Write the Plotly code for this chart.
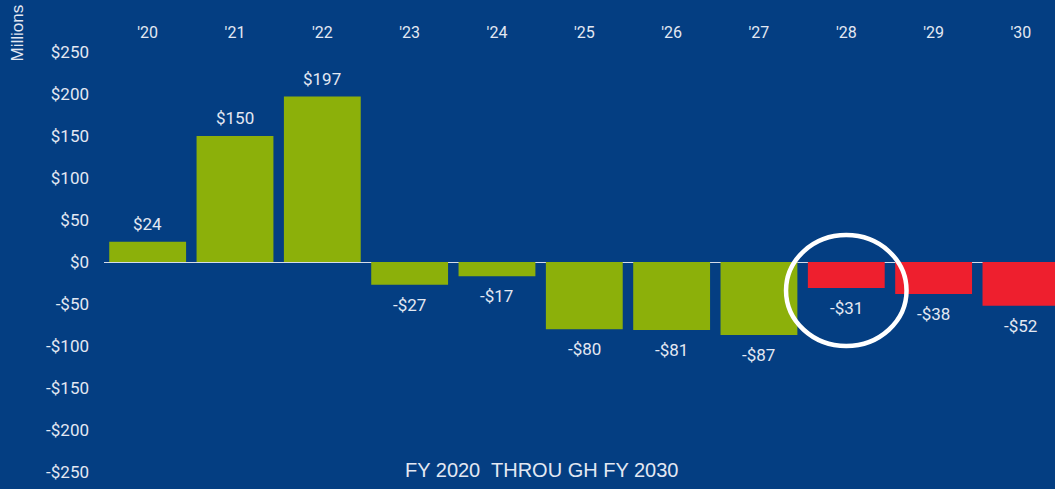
import plotly.graph_objects as go

years = ["'20", "'21", "'22", "'23", "'24", "'25", "'26", "'27", "'28", "'29", "'30"]
values = [24, 150, 197, -27, -17, -80, -81, -87, -31, -38, -52]
colors_by_kind = {"green": "#8CB00A", "red": "#EE1F2E"}
kinds = ["green"] * 8 + ["red"] * 3
y_ticks = [250, 200, 150, 100, 50, 0, -50, -100, -150, -200, -250]
y_tick_text = ["$250", "$200", "$150", "$100", "$50", "$0", "-$50", "-$100", "-$150", "-$200", "-$250"]
highlight = "'28"

BG = "#043E82"
TXT = "#E3E8F2"

fig = go.Figure()
fig.add_trace(go.Bar(
    x=list(range(len(years))), y=values,
    marker=dict(color=[colors_by_kind[k] for k in kinds], line=dict(width=0)),
    width=0.88, hoverinfo="skip",
))

for i, v in enumerate(values):
    lab = ("$%d" % v) if v >= 0 else ("-$%d" % abs(v))
    fig.add_annotation(
        x=i, y=v, xref="x", yref="y", text=lab, showarrow=False,
        yanchor="bottom" if v >= 0 else "top",
        yshift=6 if v >= 0 else -8,
        font=dict(family="Roboto", size=17, color=TXT),
    )

# highlight circle around the '28 bar
hi = years.index(highlight)
hv = values[hi]
fig.add_shape(
    type="circle", xref="x", yref="y",
    x0=hi - 0.69, x1=hi + 0.69, y0=hv - 3 - 66, y1=hv - 3 + 66,
    line=dict(color="white", width=4.5), layer="above",
)

fig.add_annotation(
    text="Millions", xref="paper", yref="paper", x=-0.092, y=1.0,
    xanchor="center", yanchor="middle", yshift=19, textangle=-90, showarrow=False,
    font=dict(family="Liberation Sans Narrow, Liberation Sans", size=17, color=TXT),
)
fig.add_annotation(
    text="FY 2020  THROU GH FY 2030", xref="paper", yref="paper", x=0.46, y=0,
    xanchor="center", yanchor="middle", yshift=2, showarrow=False,
    font=dict(family="Liberation Sans Narrow, Liberation Sans", size=20, color=TXT),
)

fig.update_layout(
    width=1055, height=489,
    margin=dict(l=104, r=0, t=52, b=17),
    paper_bgcolor=BG, plot_bgcolor=BG,
    showlegend=False,
    xaxis=dict(
        side="top", tickmode="array", tickvals=list(range(len(years))), ticktext=years,
        range=[-0.5, 10.39], showgrid=False, zeroline=False, showline=False,
        ticks="", ticklabelstandoff=10,
        tickfont=dict(family="Roboto", size=16, color=TXT),
    ),
    yaxis=dict(
        range=[-250, 250], tickmode="array", tickvals=y_ticks, ticktext=y_tick_text,
        showgrid=False, zeroline=True, zerolinecolor="#D5DCEA", zerolinewidth=1,
        showline=False, ticks="", ticklabelstandoff=14,
        tickfont=dict(family="Roboto", size=17, color=TXT),
    ),
)

fig.write_html(
    "out.html",
    config={"displayModeBar": False},
    post_script="document.body.style.margin='0';document.body.style.background='%s';" % BG,
)
